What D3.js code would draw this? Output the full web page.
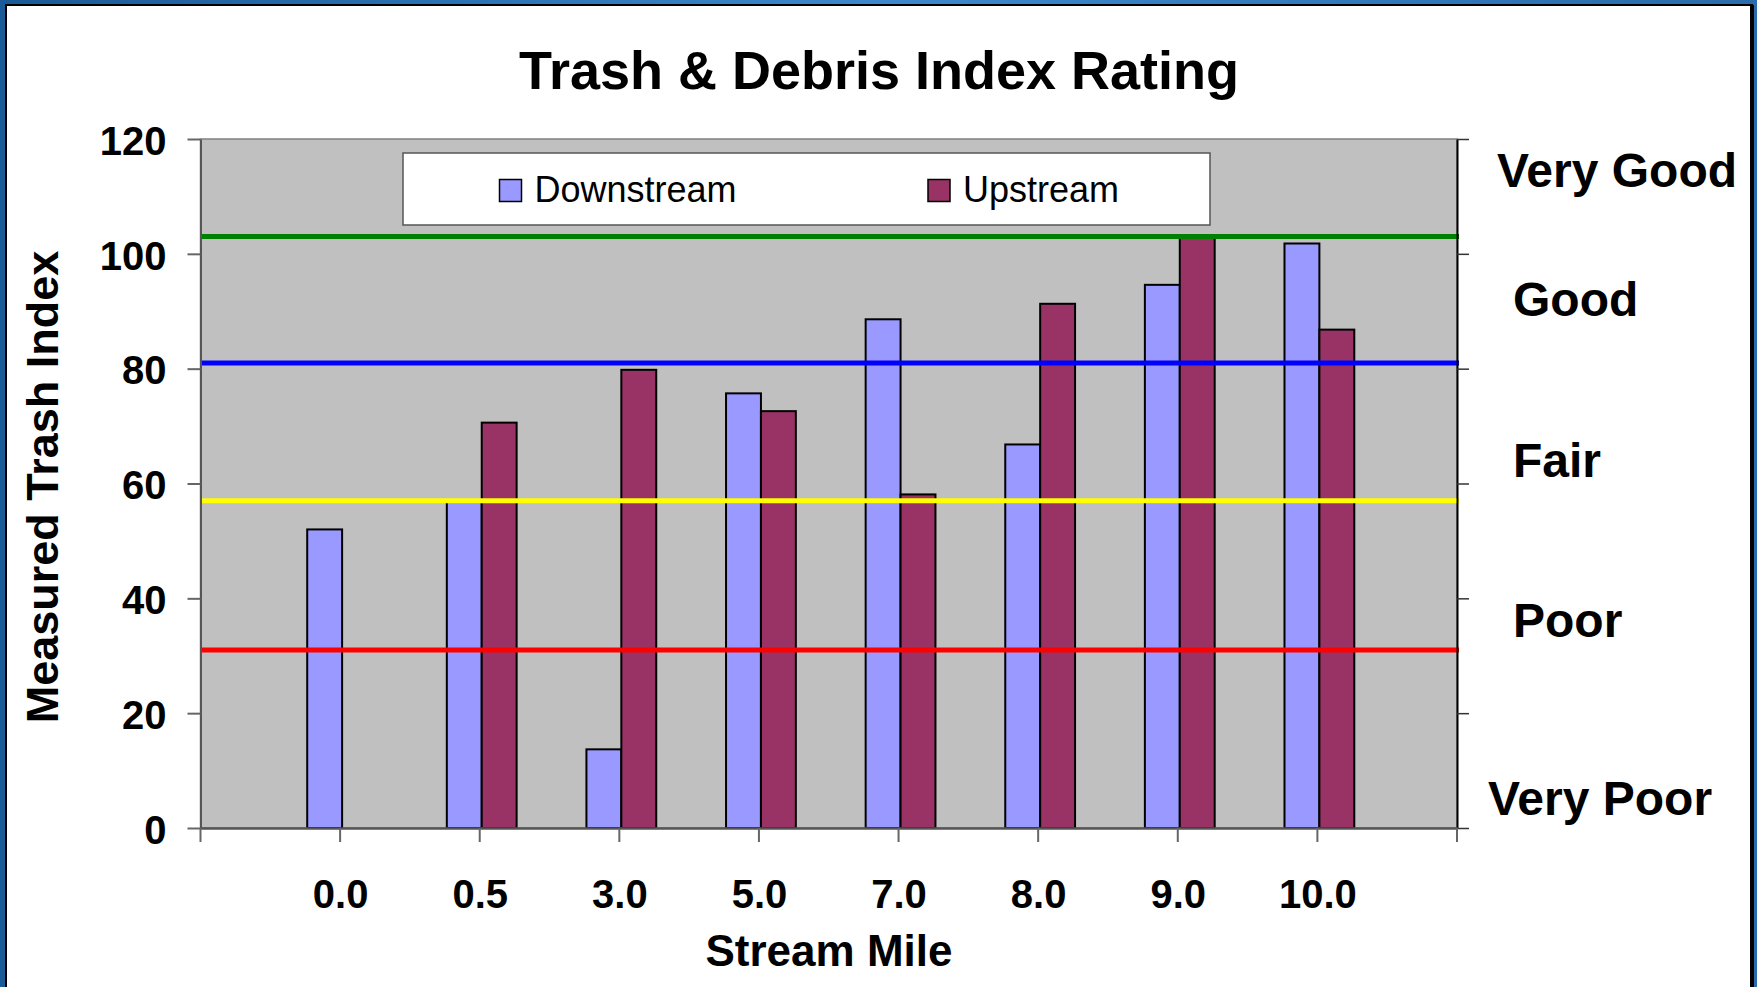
<!DOCTYPE html>
<html>
<head>
<meta charset="utf-8">
<script src="https://cdn.jsdelivr.net/npm/d3@7"></script>
<style>
  body { margin: 0; overflow: hidden; background: #2f72b0; }
  text { font-family: "Liberation Sans", Arial, sans-serif; }
</style>
</head>
<body>
<svg id="chart" width="1757" height="987"></svg>
<script>
// stream mile categories and index values
var categories = ["0.0", "0.5", "3.0", "5.0", "7.0", "8.0", "9.0", "10.0"];
var downstream = [52, 57, 13.7, 75.7, 88.6, 66.8, 94.6, 101.8];
var upstream = [0, 70.6, 79.8, 72.6, 58.1, 91.3, 103, 86.8];
var yTicks = [0, 20, 40, 60, 80, 100, 120];
var thresholds = [103, 81, 57, 31];
var thresholdColors = ["#008000", "#0000ff", "#ffff00", "#ff0000"];
var ratings = ["Very Good", "Good", "Fair", "Poor", "Very Poor"];
var ratingValues = [114.6, 92.1, 64.2, 36.3, 5.3];
var seriesNames = ["Downstream", "Upstream"];
var seriesColors = ["#9999ff", "#993366"];

var svg = d3.select("#chart");

// frame
var defs = svg.append("defs");
var grad = defs.append("linearGradient").attr("id", "frameGrad")
  .attr("x1", 0).attr("y1", 0).attr("x2", 1).attr("y2", 0);
grad.append("stop").attr("offset", "0%").attr("stop-color", "#1a5a96");
grad.append("stop").attr("offset", "50%").attr("stop-color", "#3d88cc");
grad.append("stop").attr("offset", "100%").attr("stop-color", "#2a6cab");
svg.append("rect").attr("width", 1757).attr("height", 987).attr("fill", "url(#frameGrad)");
svg.append("rect")
  .attr("x", 6).attr("y", 5).attr("width", 1746).attr("height", 1000)
  .attr("fill", "#ffffff").attr("stroke", "#000000").attr("stroke-width", 2);
svg.append("rect")
  .attr("x", 1750).attr("y", 5).attr("width", 4).attr("height", 982)
  .attr("fill", "#000000");

var plotLeft = 200.5, plotRight = 1457, plotTop = 139, plotBottom = 828;

var x = d3.scalePoint()
  .domain(categories)
  .range([plotLeft, plotRight])
  .padding(1);
var barW = x.step() / 4;
var barShift = 2;

var y = d3.scaleLinear()
  .domain([0, 120])
  .range([plotBottom, plotTop]);

// plot area
svg.append("rect")
  .attr("x", plotLeft).attr("y", plotTop)
  .attr("width", plotRight - plotLeft).attr("height", plotBottom - plotTop)
  .attr("fill", "#c0c0c0")
  .attr("stroke", "#808080").attr("stroke-width", 1.5);

// bars: downstream left of the tick, upstream right of it
var series = [downstream, upstream];
series.forEach(function(vals, s){
  var rows = vals.map(function(v, i){ return {cat: categories[i], value: v}; })
    .filter(function(d){ return d.value > 0; });
  svg.append("g").selectAll("rect")
    .data(rows)
    .enter()
    .append("rect")
    .attr("x", function(d){ return x(d.cat) + barShift + (s === 0 ? -barW : 0); })
    .attr("y", function(d){ return y(d.value); })
    .attr("width", barW)
    .attr("height", function(d){ return y(0) - y(d.value); })
    .attr("fill", seriesColors[s])
    .attr("stroke", "#000000")
    .attr("stroke-width", 2);
});

// rating threshold lines
svg.append("g").selectAll("line")
  .data(thresholds)
  .enter()
  .append("line")
  .attr("x1", plotLeft)
  .attr("x2", plotRight + 2)
  .attr("y1", function(d){ return y(d); })
  .attr("y2", function(d){ return y(d); })
  .attr("stroke", function(d, i){ return thresholdColors[i]; })
  .attr("stroke-width", 5);

// left axis
var yAxis = svg.append("g")
  .attr("transform", "translate(" + plotLeft + ",0)")
  .call(d3.axisLeft(y).tickValues(yTicks).tickSize(13).tickPadding(21).tickSizeOuter(0));
yAxis.select(".domain").attr("stroke", "#555555").attr("stroke-width", 2);
yAxis.selectAll(".tick line").attr("stroke", "#666666").attr("stroke-width", 2);
yAxis.selectAll(".tick text")
  .attr("dy", "0.38em")
  .attr("font-size", 40).attr("font-weight", "bold").attr("fill", "#000000");

// right axis (ticks only)
var yAxisR = svg.append("g")
  .attr("transform", "translate(" + plotRight + ",0)")
  .call(d3.axisRight(y).tickValues(yTicks).tickSize(12).tickFormat("").tickSizeOuter(0));
yAxisR.select(".domain").attr("stroke", "#000000").attr("stroke-width", 2);
yAxisR.selectAll(".tick line").attr("stroke", "#333333").attr("stroke-width", 1.5);

// bottom axis
var xAxis = svg.append("g")
  .attr("transform", "translate(0," + plotBottom + ")")
  .call(d3.axisBottom(x).tickSize(0).tickPadding(52).tickSizeOuter(0));
xAxis.select(".domain").attr("stroke", "#555555").attr("stroke-width", 2.5);
xAxis.selectAll(".tick text")
  .attr("font-size", 40).attr("font-weight", "bold").attr("fill", "#000000");
var bounds = [plotLeft].concat(categories.map(function(c){ return x(c); })).concat([plotRight]);
xAxis.selectAll(".bound")
  .data(bounds)
  .enter()
  .append("line")
  .attr("class", "bound")
  .attr("x1", function(d){ return d; })
  .attr("x2", function(d){ return d; })
  .attr("y1", 0).attr("y2", 14)
  .attr("stroke", "#666666").attr("stroke-width", 2);

// legend
var legend = svg.append("g");
legend.append("rect")
  .attr("x", 403).attr("y", 153)
  .attr("width", 807).attr("height", 72)
  .attr("fill", "#ffffff")
  .attr("stroke", "#555555").attr("stroke-width", 1.5);
var legendX = [499.5, 928];
seriesNames.forEach(function(name, i){
  legend.append("rect")
    .attr("x", legendX[i]).attr("y", 179.5)
    .attr("width", 22).attr("height", 22)
    .attr("fill", seriesColors[i])
    .attr("stroke", "#000000").attr("stroke-width", 1.5);
  legend.append("text")
    .attr("x", legendX[i] + 35).attr("y", 202)
    .attr("font-size", 36)
    .attr("fill", "#000000")
    .text(name);
});

// rating labels
var ratingX = [1497, 1513, 1513, 1513, 1488];
svg.append("g").selectAll("text")
  .data(ratings)
  .enter()
  .append("text")
  .attr("x", function(d, i){ return ratingX[i]; })
  .attr("y", function(d, i){ return y(ratingValues[i]); })
  .attr("dy", "0.36em")
  .attr("font-size", 48)
  .attr("font-weight", "bold")
  .attr("fill", "#000000")
  .text(function(d){ return d; });

// titles
svg.append("text")
  .attr("x", 879).attr("y", 89)
  .attr("text-anchor", "middle")
  .attr("font-size", 54).attr("font-weight", "bold")
  .text("Trash & Debris Index Rating");

svg.append("text")
  .attr("x", 829).attr("y", 966)
  .attr("text-anchor", "middle")
  .attr("font-size", 44).attr("font-weight", "bold")
  .text("Stream Mile");

svg.append("text")
  .attr("transform", "translate(58,487) rotate(-90)")
  .attr("text-anchor", "middle")
  .attr("font-size", 45).attr("font-weight", "bold")
  .text("Measured Trash Index");
</script>
</body>
</html>
